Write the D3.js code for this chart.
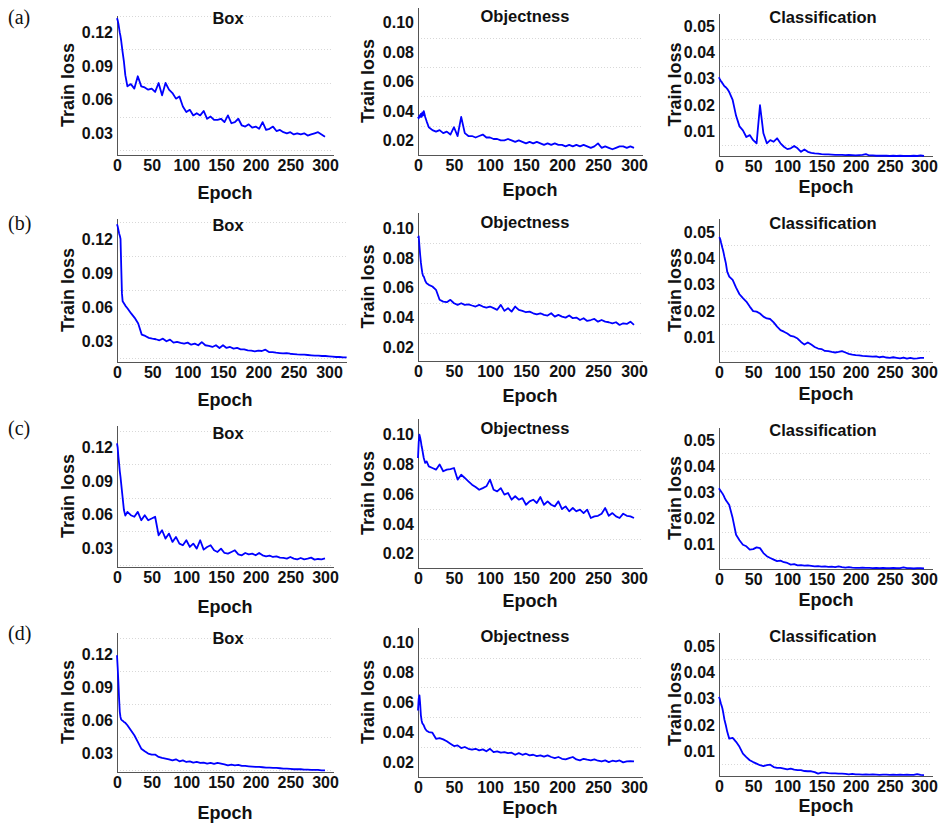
<!DOCTYPE html>
<html>
<head>
<meta charset="utf-8">
<script src="https://d3js.org/d3.v7.min.js"></script>
<style>
  body { margin: 0; background: #fff; }
  .axis text { font-family: "Liberation Sans", Arial, sans-serif; font-weight: bold; font-size: 16px; fill: #111; }
  .axis path, .axis line { stroke: #555; stroke-width: 1; shape-rendering: crispEdges; }
  .grid { stroke: #d8d8d8; stroke-width: 1; stroke-dasharray: 1,2; shape-rendering: crispEdges; }
  .curve { fill: none; stroke: #0000ff; stroke-width: 1.8; stroke-linejoin: round; }
  .title { font-family: "Liberation Sans", Arial, sans-serif; font-weight: bold; font-size: 16.5px; fill: #111; text-anchor: middle; }
  .axis-title { font-family: "Liberation Sans", Arial, sans-serif; font-weight: bold; font-size: 18px; fill: #111; text-anchor: middle; }
  .panel-tag { font-family: "Liberation Serif", "Times New Roman", serif; font-size: 20px; fill: #111; }
</style>
</head>
<body>
<svg id="chart" width="939" height="825"></svg>
<script>
// epochs: denser at the start, then every 5 epochs
var epochs = [0, 1, 2, 3, 4, 5, 6, 7, 8, 10, 12, 15].concat(d3.range(20, 301, 5));
var epochsLong = epochs.concat([305, 310, 315, 320, 325]);

var epochTicks = [0, 50, 100, 150, 200, 250, 300];
var boxTicks = [0.03, 0.06, 0.09, 0.12];
var objTicks = [0.02, 0.04, 0.06, 0.08, 0.10];
var clsTicks = [0.01, 0.02, 0.03, 0.04, 0.05];
var boxGrid = [0.015, 0.045, 0.075, 0.105, 0.135];
var objGrid = [0.03, 0.05, 0.07, 0.09];
var clsGrid = [0.005, 0.015, 0.025, 0.035, 0.045];

var titles = ["Box", "Objectness", "Classification"];
var tags = ["(a)", "(b)", "(c)", "(d)"];

// (a)
var boxA = [.133,.131,.128,.124,.120,.117,.113,.108,.103,.094,.082,.072,
  .074,.070,.081,.072,.071,.069,.070,.067,.075,.064,
  .075,.069,.066,.061,.063,.054,.049,.051,.046,.048,
  .046,.050,.043,.045,.042,.042,.043,.040,.046,.039,
  .040,.043,.037,.036,.038,.035,.036,.034,.040,.033,
  .034,.036,.032,.033,.031,.030,.031,.029,.030,.029,
  .030,.028,.029,.030,.031,.029,.027];
var objA = [.036,.035,.037,.036,.038,.036,.039,.037,.040,.036,.033,.029,
  .027,.026,.027,.025,.026,.024,.029,.023,.036,.025,
  .023,.023,.022,.023,.024,.022,.022,.021,.021,.020,
  .020,.021,.020,.019,.020,.019,.018,.019,.018,.019,
  .018,.017,.018,.017,.018,.017,.017,.016,.017,.016,
  .017,.016,.017,.016,.015,.016,.018,.015,.016,.015,
  .014,.015,.016,.016,.015,.016,.015];
var clsA = [.0306,.0300,.0295,.0290,.0288,.0283,.0280,.0275,.0272,.0268,.0262,.0250,
  .0220,.0160,.0120,.0105,.0080,.0087,.0068,.0056,.0200,.0094,
  .0056,.0068,.0062,.0075,.0056,.0043,.0034,.0037,.0046,.0037,
  .0024,.0033,.0024,.0020,.0018,.0017,.0015,.0014,.0014,.0013,
  .0012,.0012,.0012,.0011,.0012,.0011,.0010,.0011,.0012,.0015,
  .0010,.0010,.0009,.0009,.0009,.0009,.0008,.0009,.0008,.0009,
  .0008,.0008,.0008,.0009,.0008,.0010,.0008];

// (b)
var boxB = [.133,.131,.128,.125,.123,.120,.095,.072,.065,.063,.061,.0587,
  .0543,.0504,.0454,.0356,.0344,.0327,.0320,.0315,.0306,.0320,
  .0297,.0312,.0285,.0291,.0282,.0276,.0285,.0267,.0276,.0262,
  .0290,.0262,.0256,.0247,.0262,.0238,.0262,.0238,.0247,.0232,
  .0238,.0226,.0226,.0217,.0214,.0208,.0214,.0211,.0223,.0202,
  .0202,.0196,.0193,.0190,.0193,.0187,.0184,.0181,.0179,.0179,
  .0176,.0173,.0170,.0170,.0167,.0167,.0164,.0161,.0158,.0158,.0155,.0155];
var objB = [.0933,.0944,.0880,.0820,.0770,.0732,.0700,.0680,.0676,.0647,.0630,.0620,
  .0609,.0587,.0520,.0508,.0504,.0520,.0497,.0486,.0497,.0486,
  .0490,.0482,.0475,.0486,.0475,.0468,.0475,.0464,.0453,.0486,
  .0446,.0464,.0441,.0475,.0453,.0446,.0437,.0441,.0430,.0423,
  .0430,.0419,.0415,.0430,.0408,.0419,.0408,.0401,.0415,.0397,
  .0401,.0385,.0397,.0379,.0385,.0392,.0374,.0385,.0374,.0370,
  .0363,.0370,.0352,.0363,.0359,.0374,.0352];
var clsB = [.0480,.0478,.0471,.0460,.0450,.0439,.0430,.0418,.0405,.0382,.0350,.0331,
  .0318,.0289,.0264,.0249,.0236,.0217,.0200,.0198,.0191,.0179,
  .0172,.0170,.0157,.0141,.0128,.0122,.0115,.0106,.0103,.0096,
  .0083,.0073,.0081,.0073,.0064,.0058,.0056,.0049,.0048,.0045,
  .0043,.0045,.0048,.0043,.0038,.0035,.0033,.0032,.0030,.0029,
  .0028,.0027,.0028,.0025,.0027,.0024,.0023,.0025,.0023,.0021,
  .0024,.0020,.0023,.0020,.0021,.0023,.0023];

// (c)
var boxC = [.124,.120,.112,.106,.099,.094,.088,.082,.076,.064,.059,.0624,
  .0594,.0580,.0624,.0549,.0594,.0549,.0564,.0580,.0414,.0459,
  .0384,.0429,.0354,.0399,.0339,.0324,.0369,.0309,.0339,.0294,
  .0369,.0285,.0309,.0324,.0279,.0264,.0294,.0255,.0249,.0264,
  .0279,.0243,.0234,.0255,.0243,.0249,.0234,.0255,.0234,.0225,
  .0231,.0219,.0225,.0213,.0210,.0204,.0219,.0204,.0198,.0210,
  .0198,.0204,.0213,.0195,.0201,.0198,.0207];
var objC = [.0843,.0950,.1000,.0980,.0955,.0922,.0900,.0870,.0843,.0810,.0820,.0787,
  .0776,.0765,.0800,.0754,.0765,.0769,.0776,.0698,.0731,.0709,
  .0686,.0664,.0648,.0630,.0641,.0653,.0698,.0630,.0619,.0641,
  .0597,.0608,.0563,.0586,.0563,.0574,.0529,.0552,.0563,.0541,
  .0581,.0529,.0552,.0529,.0518,.0552,.0500,.0518,.0485,.0507,
  .0485,.0496,.0473,.0496,.0440,.0451,.0455,.0469,.0507,.0455,
  .0473,.0451,.0440,.0469,.0455,.0451,.0440];
var clsC = [.0316,.0312,.0308,.0304,.0300,.0297,.0292,.0287,.0281,.0271,.0264,.0252,
  .0202,.0138,.0117,.0100,.0094,.0081,.0083,.0090,.0087,.0068,
  .0056,.0049,.0043,.0037,.0039,.0033,.0030,.0024,.0026,.0021,
  .0022,.0020,.0021,.0019,.0017,.0018,.0016,.0017,.0015,.0016,
  .0014,.0017,.0014,.0012,.0014,.0012,.0011,.0011,.0012,.0011,
  .0011,.0010,.0011,.0010,.0011,.0010,.0010,.0011,.0010,.0010,
  .0013,.0010,.0010,.0009,.0010,.0010,.0009];

// (d)
var boxD = [.1194,.1080,.0950,.0800,.0680,.0633,.0610,.0603,.0600,.0588,.0580,.0558,
  .0512,.0467,.0406,.0345,.0321,.0300,.0291,.0291,.0270,.0261,
  .0255,.0248,.0239,.0248,.0230,.0239,.0224,.0230,.0218,.0224,
  .0215,.0218,.0209,.0215,.0206,.0215,.0209,.0203,.0194,.0200,
  .0194,.0197,.0188,.0188,.0185,.0182,.0179,.0179,.0176,.0173,
  .0173,.0170,.0170,.0167,.0164,.0164,.0161,.0158,.0158,.0158,
  .0155,.0155,.0152,.0152,.0152,.0148,.0148];
var objD = [.0546,.0625,.0647,.0591,.0513,.0479,.0460,.0453,.0446,.0423,.0410,.0401,
  .0397,.0356,.0361,.0352,.0339,.0323,.0307,.0312,.0294,.0301,
  .0289,.0283,.0289,.0278,.0285,.0272,.0289,.0267,.0272,.0263,
  .0267,.0260,.0263,.0249,.0260,.0249,.0256,.0245,.0249,.0240,
  .0245,.0236,.0245,.0234,.0227,.0234,.0222,.0218,.0227,.0234,
  .0218,.0211,.0222,.0216,.0211,.0218,.0209,.0204,.0211,.0200,
  .0209,.0204,.0211,.0198,.0204,.0207,.0204];
var clsD = [.0307,.0300,.0290,.0280,.0272,.0263,.0250,.0235,.0220,.0199,.0175,.0148,
  .0151,.0136,.0117,.0091,.0078,.0066,.0059,.0053,.0047,.0044,
  .0047,.0049,.0040,.0037,.0037,.0034,.0031,.0034,.0030,.0028,
  .0028,.0025,.0024,.0024,.0021,.0015,.0019,.0019,.0017,.0016,
  .0016,.0015,.0015,.0014,.0012,.0014,.0012,.0012,.0011,.0012,
  .0011,.0012,.0011,.0010,.0011,.0011,.0010,.0011,.0010,.0011,
  .0010,.0011,.0010,.0010,.0013,.0010,.0009];

var series = [[boxA, objA, clsA], [boxB, objB, clsB], [boxC, objC, clsC], [boxD, objD, clsD]];
var colTicks = [boxTicks, objTicks, clsTicks];
var colGrid = [boxGrid, objGrid, clsGrid];

// panel geometry (pixels) per row / column
var colX0 = [117, 418, 719];          // x of epoch 0
var colX300 = [325, 634, 924];        // x of epoch 300
var titleX = [228, 525, 823];
var xLabelX = [225, 530, 826];
var yLabelX = [74, 374, 681];
var tagY = [24, 230, 435, 640];

var geo = [
  [ {top: 15, bottom: 155, y: [0.0106, 0.1358], ty: 24, ex: 199},
    {top: 7, bottom: 155, y: [0.0101, 0.1108], ty: 22, ex: 196},
    {top: 13, bottom: 156, y: [0.0008, 0.0549], ty: 23, ex: 193} ],
  [ {top: 218, bottom: 362, y: [0.0114, 0.1386], ty: 231, ex: 406, xMax: 325, x300: 329},
    {top: 212, bottom: 361, y: [0.0111, 0.1107], ty: 228, ex: 402},
    {top: 218, bottom: 362, y: [0.0007, 0.0553], ty: 229, ex: 400} ],
  [ {top: 425, bottom: 567, y: [0.0129, 0.1404], ty: 439, ex: 613},
    {top: 418, bottom: 568, y: [0.0104, 0.1112], ty: 434, ex: 607},
    {top: 427, bottom: 569, y: [0.0007, 0.0551], ty: 436, ex: 606} ],
  [ {top: 632, bottom: 772, y: [0.0133, 0.1405], ty: 644, ex: 819},
    {top: 627, bottom: 777, y: [0.0100, 0.1105], ty: 642, ex: 814},
    {top: 632, bottom: 776, y: [0.0006, 0.0554], ty: 642, ex: 812} ]
];

var svg = d3.select("#chart");

series.forEach(function(rowSeries, r) {
  svg.append("text").attr("class", "panel-tag")
    .attr("x", 8).attr("y", tagY[r]).text(tags[r]);

  rowSeries.forEach(function(values, c) {
    var p = geo[r][c];
    var xMax = p.xMax || 312;
    var k = ((p.x300 || colX300[c]) - colX0[c]) / 300;
    var xs = values.length > epochs.length ? epochsLong : epochs;

    var x = d3.scaleLinear().domain([0, xMax]).range([colX0[c], colX0[c] + k * xMax]);
    var y = d3.scaleLinear().domain(p.y).range([p.bottom, p.top]);

    var g = svg.append("g");

    g.selectAll(".grid").data(colGrid[c]).enter().append("line")
      .attr("class", "grid")
      .attr("x1", x(0)).attr("x2", x(xMax))
      .attr("y1", function(d) { return Math.round(y(d)) + 0.5; })
      .attr("y2", function(d) { return Math.round(y(d)) + 0.5; });

    g.append("g").attr("class", "axis")
      .attr("transform", "translate(" + colX0[c] + ",0)")
      .call(d3.axisLeft(y).tickValues(colTicks[c]).tickFormat(d3.format(".2f"))
        .tickSize(0).tickSizeOuter(0).tickPadding(4))
      .attr("font-family", null).attr("font-size", null);

    g.append("g").attr("class", "axis")
      .attr("transform", "translate(0," + p.bottom + ")")
      .call(d3.axisBottom(x).tickValues(epochTicks).tickFormat(d3.format("d"))
        .tickSize(0).tickSizeOuter(0).tickPadding(5))
      .attr("font-family", null).attr("font-size", null);

    var line = d3.line()
      .x(function(d, i) { return x(xs[i]); })
      .y(function(d) { return y(d); });

    g.append("path").datum(values).attr("class", "curve").attr("d", line);

    g.append("text").attr("class", "title")
      .attr("x", titleX[c]).attr("y", p.ty).text(titles[c]);

    g.append("text").attr("class", "axis-title")
      .attr("x", xLabelX[c]).attr("y", p.ex).text("Epoch");

    g.append("text").attr("class", "axis-title")
      .attr("transform", "translate(" + yLabelX[c] + "," + ((p.top + p.bottom) / 2) + ") rotate(-90)")
      .text("Train loss");
  });
});
</script>
</body>
</html>
